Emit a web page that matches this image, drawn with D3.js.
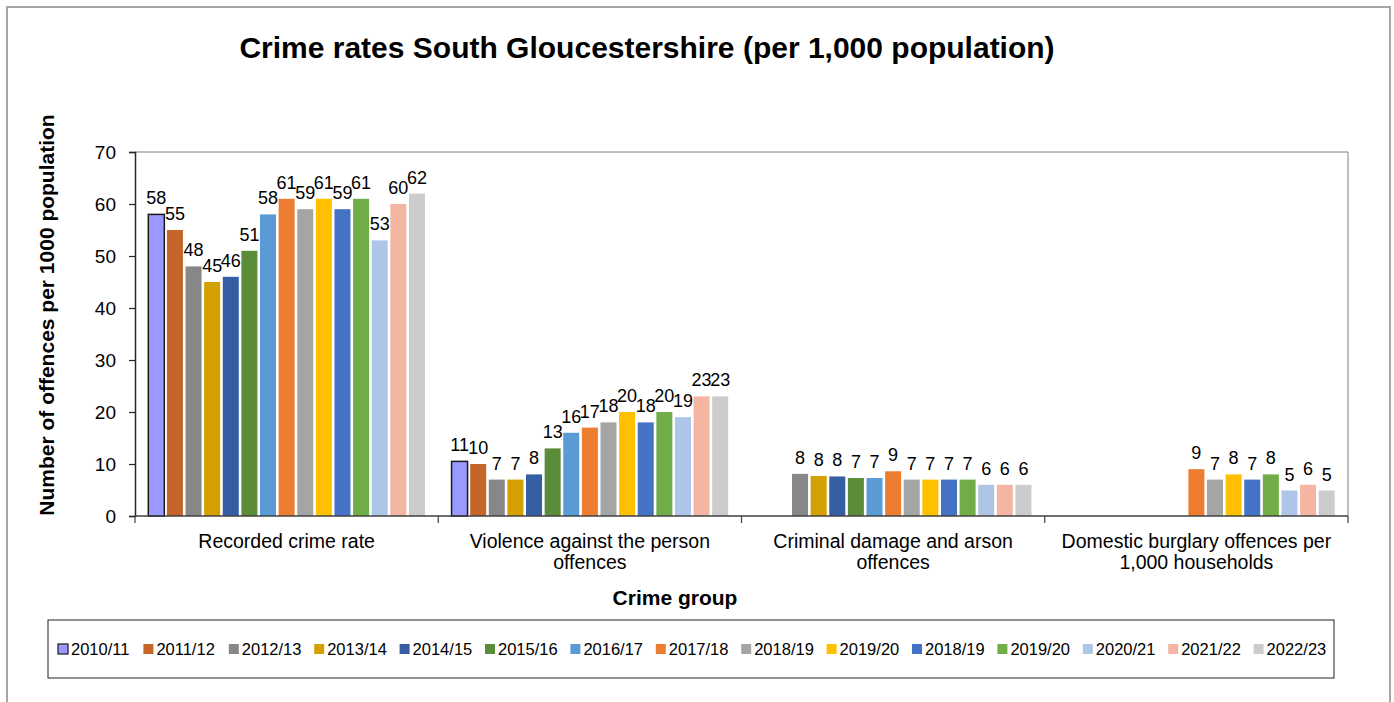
<!DOCTYPE html>
<html>
<head>
<meta charset="utf-8">
<script src="https://cdn.jsdelivr.net/npm/d3@7"></script>
<style>
  html, body { margin: 0; padding: 0; background: #fff; }
  svg { display: block; font-family: "Liberation Sans", Arial, sans-serif; }
</style>
</head>
<body>
<svg id="chart" width="1394" height="702"></svg>
<script>
// ---- data ----
const categories = [
  ["Recorded crime rate"],
  ["Violence against the person", "offences"],
  ["Criminal damage and arson", "offences"],
  ["Domestic burglary offences per", "1,000 households"]
];
const seriesNames = ["2010/11","2011/12","2012/13","2013/14","2014/15","2015/16","2016/17","2017/18","2018/19","2019/20","2018/19","2019/20","2020/21","2021/22","2022/23"];
const seriesColors = ["#9999FF","#C4652A","#878787","#D4A000","#355EA3","#5B8C3A","#5B9BD5","#ED7D31","#A5A5A5","#FFC000","#4472C4","#70AD47","#ADC5E6","#F4B6A3","#CCCCCC"];
const recordedCrime = [58, 55, 48, 45, 46, 51, 58, 61, 59, 61, 59, 61, 53, 60, 62];
const violence      = [10.5, 10, 7, 7, 8, 13, 16, 17, 18, 20, 18, 20, 19, 23, 23];
const criminalDamage = [null, null, 8.1, 7.7, 7.6, 7.3, 7.3, 8.6, 7, 7, 7, 7, 6, 6, 6];
const burglary      = [null, null, null, null, null, null, null, 9, 7, 8, 7, 8, 4.9, 6, 4.9];
const yTicks = [0, 10, 20, 30, 40, 50, 60, 70];
const title = "Crime rates South Gloucestershire (per 1,000 population)";
const yTitle = "Number of offences per 1000 population";
const xTitle = "Crime group";

const groups = [recordedCrime, violence, criminalDamage, burglary];

// ---- layout ----
const svg = d3.select("#chart");
const plot = { left: 135, right: 1348, top: 152, bottom: 516 };

// outer border
svg.append("rect").attr("x", 7).attr("y", 7).attr("width", 1383).attr("height", 720)
  .attr("fill", "#fff").attr("stroke", "#A6A6A6").attr("stroke-width", 2);

// title
svg.append("text").attr("x", 647).attr("y", 58).attr("text-anchor", "middle")
  .attr("font-size", 30).attr("font-weight", "bold").attr("fill", "#000").text(title);

const x0 = d3.scaleBand().domain(d3.range(categories.length)).range([plot.left, plot.right]).padding(0);
const x1 = d3.scaleBand().domain(d3.range(seriesNames.length))
  .range([12, x0.bandwidth() - 12]).paddingInner(0.14).paddingOuter(0.07);
const y = d3.scaleLinear().domain([0, 70]).range([plot.bottom, plot.top]);

// plot area border (top & right)
svg.append("path")
  .attr("d", `M${plot.left},${plot.top}H${plot.right}V${plot.bottom}`)
  .attr("fill", "none").attr("stroke", "#7F7F7F").attr("stroke-width", 1);

// bars
const g = svg.append("g");
groups.forEach((vals, ci) => {
  const cg = g.append("g").attr("transform", `translate(${x0(ci)},0)`);
  vals.forEach((v, si) => {
    if (v === null) return;
    const bx = x1(si), bw = x1.bandwidth();
    cg.append("rect")
      .attr("x", bx).attr("y", y(v)).attr("width", bw).attr("height", y(0) - y(v))
      .attr("fill", seriesColors[si])
      .attr("stroke", si === 0 ? "#1a1a1a" : "none")
      .attr("stroke-width", si === 0 ? 1.5 : 0);
    cg.append("text")
      .attr("x", bx + bw / 2).attr("y", y(v) - 10)
      .attr("text-anchor", "middle").attr("font-size", 18).attr("fill", "#000")
      .text(Math.round(v));
  });
});

// y axis
const yAxis = d3.axisLeft(y).tickValues(yTicks).tickSize(6).tickPadding(13);
const ya = svg.append("g").attr("transform", `translate(${plot.left},0)`).call(yAxis);
ya.select(".domain").attr("stroke", "#262626").attr("stroke-width", 1.5);
ya.selectAll(".tick line").attr("stroke", "#262626").attr("stroke-width", 1.2);
ya.selectAll(".tick text").attr("font-size", 19).attr("fill", "#000")
  .attr("font-family", "\"Liberation Sans\", Arial, sans-serif");

// x axis line & category ticks
svg.append("line").attr("x1", plot.left).attr("x2", plot.right)
  .attr("y1", plot.bottom).attr("y2", plot.bottom)
  .attr("stroke", "#404040").attr("stroke-width", 1.5);
const boundaries = d3.range(categories.length + 1).map(i => i < categories.length ? x0(i) : plot.right);
svg.selectAll(".ctick").data(boundaries).enter().append("line")
  .attr("x1", d => d).attr("x2", d => d)
  .attr("y1", plot.bottom).attr("y2", plot.bottom + 7)
  .attr("stroke", "#404040").attr("stroke-width", 1.2);

// category labels
categories.forEach((lines, ci) => {
  const t = svg.append("text").attr("x", x0(ci) + x0.bandwidth() / 2).attr("y", 548)
    .attr("text-anchor", "middle").attr("font-size", 19.5).attr("fill", "#000");
  lines.forEach((ln, li) => {
    t.append("tspan").attr("x", x0(ci) + x0.bandwidth() / 2).attr("dy", li === 0 ? 0 : 21).text(ln);
  });
});

// axis titles
svg.append("text").attr("x", 675).attr("y", 605).attr("text-anchor", "middle")
  .attr("font-size", 21).attr("font-weight", "bold").attr("fill", "#000").text(xTitle);
svg.append("text").attr("transform", "translate(54,315) rotate(-90)").attr("text-anchor", "middle")
  .attr("font-size", 21).attr("font-weight", "bold").attr("fill", "#000").text(yTitle);

// legend
svg.append("rect").attr("x", 48).attr("y", 620).attr("width", 1286).attr("height", 58)
  .attr("fill", "#fff").attr("stroke", "#222").attr("stroke-width", 1);
const leg = svg.append("g");
const itemStep = 85.4;
seriesNames.forEach((name, i) => {
  const lx = 58 + i * itemStep;
  leg.append("rect").attr("x", lx).attr("y", 644).attr("width", 10).attr("height", 10)
    .attr("fill", seriesColors[i])
    .attr("stroke", i === 0 ? "#1a1a1a" : "none").attr("stroke-width", i === 0 ? 1.2 : 0);
  leg.append("text").attr("x", lx + 13).attr("y", 655).attr("font-size", 16.5).attr("fill", "#000").text(name);
});
</script>
</body>
</html>
